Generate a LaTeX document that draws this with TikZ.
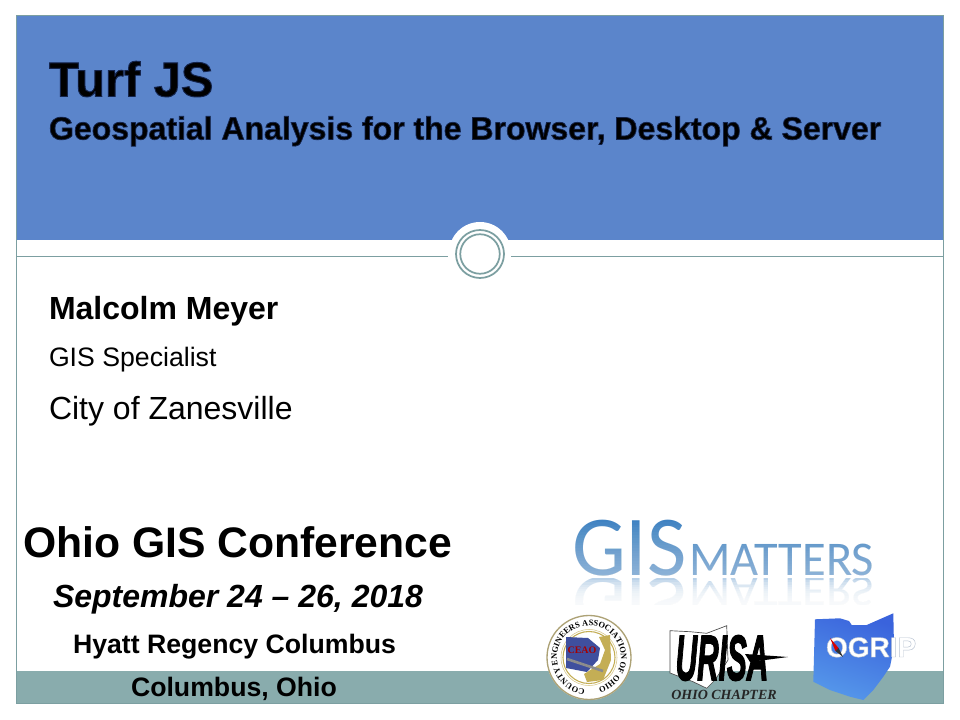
\documentclass[tikz,border=0pt]{standalone}
\usepackage{fontspec}
\setmainfont{Liberation Sans}
\newfontfamily\calibrifont{Carlito}
\newfontfamily\seriffont{Liberation Serif}
\newfontfamily\urisafont[FakeBold=2.5]{Liberation Sans Bold Italic}
\usetikzlibrary{decorations.text}
\definecolor{headblue}{HTML}{5B85CB}
\definecolor{teal}{HTML}{89ACAD}
\definecolor{frameteal}{HTML}{7C9FA1}
\definecolor{gisblue}{HTML}{3F82C2}
\definecolor{ogripa}{HTML}{3A63DC}
\definecolor{ogripb}{HTML}{5597EA}
\definecolor{sealgold}{HTML}{C4AE55}
\definecolor{sealblue}{HTML}{3F4F9E}
\newcommand{\fs}[1]{\fontsize{#1}{#1}\selectfont}
\newcommand{\glowtext}[3]{\special{pdf:code q #1 RG 2 Tr #2 w}#3\special{pdf:code Q}}
\tikzset{
  x=0.75pt,y=-0.75pt,
  txt/.style={anchor=base west,inner sep=0pt,outer sep=0pt,text=black},
  ring/.style={draw=frameteal,line width=1.3pt,fill=none},
  rule/.style={draw=frameteal,line width=0.75pt},
  logo/.style={anchor=base west,inner sep=0pt,outer sep=0pt,text=gisblue}
}
\begin{document}
\begin{tikzpicture}
\useasboundingbox (0,0) rectangle (960,720);
\fill[white] (0,0) rectangle (960,720);
% slide
\fill[headblue] (16,16) rectangle (943,240);
\fill[teal] (16,671) rectangle (943,703);
\draw[frameteal,line width=0.75pt] (16,15.5) rectangle (943.5,703.5);
% divider
\coordinate (ruleL) at (16,256.5);
\coordinate (ruleR) at (943,256.5);
\fill[white] (480,253) circle (31);
\node[circle,ring,minimum size=48*0.75pt,inner sep=0pt] (outerring) at (480,254) {};
\node[circle,ring,minimum size=39.5*0.75pt,inner sep=0pt] (innerring) at (480,254) {};
\coordinate (gapL) at (448,256.5);
\coordinate (gapR) at (511,256.5);
\draw[rule] (ruleL) -- (gapL);
\draw[rule] (gapR) -- (ruleR);
% title
\node[txt] (title) at (49,96.5) {\bfseries\fs{36.6}\glowtext{0.08 0.14 0.30}{0.7}{Turf JS}};
\node[txt] (subtitle) at (49,139.5) {\bfseries\fs{24}\glowtext{0.08 0.14 0.30}{0.55}{Geospatial Analysis for the Browser, Desktop \& Server}};
% body
\node[txt] (name) at (49,320) {\bfseries\fs{24}Malcolm Meyer};
\node[txt] (job) at (49,366) {\fs{20}GIS Specialist};
\node[txt] (city) at (49,419) {\fs{24}City of Zanesville};
\node[txt] (conf) at (23,557.5) {\bfseries\fs{32}Ohio GIS Conference};
\node[txt] (dates) at (53,607) {\bfseries\itshape\fs{24}September 24 -- 26, 2018};
\node[txt] (hotel) at (73,653) {\bfseries\fs{20}Hyatt Regency Columbus};
\node[txt] (place) at (131,696) {\bfseries\fs{20}Columbus, Ohio};
% GIS Matters logo
\node[logo] (gis) at (572,575) {\calibrifont\fs{64}GIS};
\node[logo] (matters) at (689,575) {\calibrifont\fs{36.3}MATTERS};
\foreach \i in {0,...,20}
  \fill[white,opacity=.028] (565,{522+\i*2.6}) rectangle (885,577);
\begin{scope}
  \clip (565,578) rectangle (885,604);
  \node[logo,opacity=.45,yscale=-.9] (gisR) at (572,577) {\calibrifont\fs{64}GIS};
  \node[logo,opacity=.45,yscale=-.9] (matR) at (689,577) {\calibrifont\fs{36.3}MATTERS};
  \foreach \i in {0,...,11}
    \fill[white,opacity=.2] (565,{578+\i*2.2}) rectangle (885,606);
\end{scope}
% CEAO seal
\fill[white] (589,657.5) circle (42.5);
\draw[draw=sealgold!70!black!70,line width=1pt] (589,657.5) circle (42);
\draw[draw=sealgold,line width=0.8pt] (589,657.5) circle (26);
\draw[draw=sealgold!70,line width=0.4pt] (589,657.5) circle (28);
\fill[sealblue] (566,637) -- (588,638) -- (600,648) -- (598,660) -- (587,672) -- (566,668) -- cycle;
\fill[sealgold] (599,637) -- (610,635) -- (611,660) -- (603,680) -- (587,682) -- (584,674) -- (600,664) -- (605,650) -- cycle;
\draw[black!45,line width=2pt] (567,659) -- (603,671);
\node[inner sep=0pt,text=red!65!black] (ceao) at (582,650) {\bfseries\seriffont\fs{7.5}CEAO};
\path[postaction={decorate,decoration={text along path,text align=center,
   text={|\bfseries\seriffont\fontsize{6.3}{6.3}\selectfont|COUNTY ENGINEERS ASSOCIATION OF OHIO}}}]
   (583.4,689) arc[start angle=-100,delta angle=-330,radius=24pt];
% URISA logo
\filldraw[fill=white,draw=black!70,line width=0.5pt] (670,630.7) -- (690,631.7) -- (706.7,633.3) -- (726.7,625.7) -- (728,660) -- (715,680) -- (706.7,688.3) -- (693,681.7) -- (670,673) -- cycle;
\node[inner sep=0pt,text=black,xscale=.86,yscale=1.85] (urisa) at (722,658) {\urisafont\fs{26}URISA};
\coordinate (swooshA) at (745,654);
\coordinate (swooshB) at (788,657);
\fill[black] (swooshA) -- (swooshB) -- (750,662) -- cycle;
\node[inner sep=0pt,text=black!85] (chapter) at (724,695) {\seriffont\bfseries\itshape\fs{10.5}OHIO CHAPTER};
% OGRIP logo
\shade[top color=ogripa,bottom color=ogripb,shading angle=-20]
  (815,619.3) -- (840,618.3) -- (849,621) -- (851.7,625) -- (866.7,625) -- (893.3,613.3) -- (894,646.7) -- (890,666.7) -- (883.3,676.7) -- (873.3,690) -- (863.3,700) -- (850,696.7) -- (830,690) -- (813.3,681.7) -- cycle;
\node[txt,text=white] (ogrip) at (826,657) {\bfseries\fs{21}\glowtext{0.72 0.76 0.82}{0.35}{OGRIP}};
\fill[red!85!black] (830,638) -- (838.5,648) -- (835.5,651) -- cycle;
\fill[black!80] (838.5,648) -- (843,657) -- (835.5,651) -- cycle;
\end{tikzpicture}
\end{document}
